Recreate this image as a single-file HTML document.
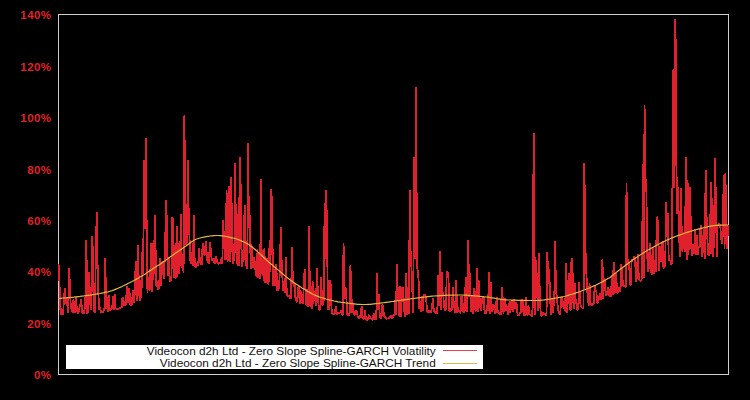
<!DOCTYPE html>
<html><head><meta charset="utf-8"><style>
html,body{margin:0;padding:0;background:#000;}
body{width:750px;height:400px;position:relative;overflow:hidden;font-family:"Liberation Sans",sans-serif;}
svg{position:absolute;left:0;top:0;}
.yl{position:absolute;left:0;width:51.5px;text-align:right;color:#e0202c;font-weight:bold;font-size:11.5px;line-height:12px;height:12px;letter-spacing:0.45px;white-space:nowrap;}
.lg{position:absolute;left:66px;top:345px;width:417px;height:24px;background:#fff;}
.lt{position:absolute;right:47.3px;color:#111;font-size:11.8px;line-height:13px;white-space:nowrap;text-align:right;}
</style></head><body>
<svg width="750" height="400" viewBox="0 0 750 400">
<rect x="58.5" y="14.5" width="670" height="360" fill="none" stroke="#cfcfcf" stroke-width="1"/>
<path d="M58.00,265.0 L58.86,265.0 L59.72,290.4 L60.58,314.8 L61.44,308.1 L62.30,314.2 L63.16,313.7 L64.02,297.9 L64.88,287.6 L65.74,298.4 L66.60,306.0 L67.46,298.1 L68.32,312.9 L69.18,268.0 L70.04,290.9 L70.90,308.7 L71.76,307.6 L72.62,313.1 L73.48,299.0 L74.34,311.7 L75.20,312.2 L76.06,296.6 L76.92,310.5 L77.78,313.8 L78.64,311.5 L79.50,307.6 L80.36,304.0 L81.22,299.0 L82.08,313.1 L82.94,312.2 L83.80,313.5 L84.66,308.6 L85.52,295.9 L86.38,240.0 L87.24,313.6 L88.10,312.4 L88.96,272.0 L89.82,292.1 L90.68,310.4 L91.54,297.1 L92.40,236.0 L93.26,275.3 L94.12,310.8 L94.98,313.0 L95.84,253.6 L96.70,211.8 L97.56,263.1 L98.42,294.9 L99.28,310.2 L100.14,307.4 L101.00,312.9 L101.86,311.6 L102.72,312.6 L103.58,310.4 L104.44,308.4 L105.30,258.0 L106.16,309.3 L107.02,297.1 L107.88,311.7 L108.74,295.1 L109.60,310.2 L110.46,310.5 L111.32,308.2 L112.18,307.9 L113.04,295.9 L113.91,310.1 L114.77,294.0 L115.63,309.1 L116.49,308.2 L117.35,309.8 L118.21,308.9 L119.07,308.7 L119.93,307.8 L120.79,307.4 L121.65,307.6 L122.51,296.9 L123.37,298.4 L124.23,306.0 L125.09,304.8 L125.95,304.8 L126.81,286.0 L127.67,302.5 L128.53,301.6 L129.39,288.1 L130.25,305.1 L131.11,304.8 L131.97,304.2 L132.83,290.3 L133.69,303.0 L134.55,296.9 L135.41,271.0 L136.27,261.4 L137.13,300.9 L137.99,245.0 L138.85,286.2 L139.71,300.6 L140.57,279.9 L141.43,297.5 L142.29,252.0 L143.15,273.8 L144.01,160.5 L144.87,229.2 L145.73,138.0 L146.59,218.2 L147.45,293.0 L148.31,277.2 L149.17,290.1 L150.03,289.2 L150.89,243.0 L151.75,291.7 L152.61,280.3 L153.47,240.0 L154.33,273.5 L155.19,215.5 L156.05,286.4 L156.91,280.7 L157.77,289.6 L158.63,289.2 L159.49,279.5 L160.35,258.0 L161.21,285.8 L162.07,262.4 L162.93,261.3 L163.79,278.5 L164.65,261.5 L165.51,228.5 L166.37,200.0 L167.23,253.5 L168.09,275.6 L168.95,256.9 L169.81,281.7 L170.67,280.4 L171.53,275.4 L172.39,217.0 L173.25,220.0 L174.11,277.9 L174.97,276.8 L175.83,278.4 L176.69,226.0 L177.55,276.9 L178.41,242.7 L179.27,273.9 L180.13,253.8 L180.99,214.0 L181.85,268.2 L182.71,264.0 L183.57,272.7 L184.43,114.8 L185.29,236.2 L186.15,245.2 L187.01,241.7 L187.87,160.0 L188.73,215.4 L189.59,239.8 L190.45,261.7 L191.31,263.8 L192.17,252.1 L193.03,265.5 L193.89,215.0 L194.75,266.5 L195.61,266.7 L196.47,266.9 L197.33,263.5 L198.19,265.8 L199.05,247.7 L199.91,261.4 L200.77,264.1 L201.63,265.0 L202.49,247.9 L203.35,242.8 L204.21,254.4 L205.07,255.0 L205.93,241.0 L206.79,260.6 L207.65,252.5 L208.51,264.3 L209.37,259.6 L210.23,241.8 L211.09,255.2 L211.95,260.4 L212.81,258.6 L213.67,258.7 L214.53,263.2 L215.39,263.6 L216.25,255.8 L217.11,262.5 L217.97,264.0 L218.83,263.2 L219.69,262.6 L220.55,262.9 L221.41,258.7 L222.27,264.2 L223.13,220.5 L223.99,238.5 L224.85,259.4 L225.72,258.0 L226.58,190.0 L227.44,261.5 L228.30,258.2 L229.16,186.0 L230.02,261.7 L230.88,177.0 L231.74,207.0 L232.60,264.1 L233.46,262.7 L234.32,255.6 L235.18,163.0 L236.04,244.8 L236.90,262.4 L237.76,265.5 L238.62,197.0 L239.48,266.3 L240.34,157.5 L241.20,242.6 L242.06,266.8 L242.92,259.5 L243.78,243.0 L244.64,205.0 L245.50,266.0 L246.36,264.6 L247.22,269.3 L248.08,143.0 L248.94,228.1 L249.80,215.5 L250.66,269.3 L251.52,243.6 L252.38,268.1 L253.24,267.1 L254.10,256.7 L254.96,263.8 L255.82,276.2 L256.68,274.3 L257.54,249.2 L258.40,277.5 L259.26,274.1 L260.12,279.2 L260.98,179.0 L261.84,273.9 L262.70,257.6 L263.56,280.6 L264.42,248.5 L265.28,282.7 L266.14,281.9 L267.00,258.2 L267.86,284.4 L268.72,281.0 L269.58,240.0 L270.44,272.2 L271.30,189.0 L272.16,208.0 L273.02,285.5 L273.88,280.4 L274.74,286.2 L275.60,264.5 L276.46,269.7 L277.32,290.5 L278.18,290.0 L279.04,288.3 L279.90,269.6 L280.76,227.0 L281.62,260.3 L282.48,279.4 L283.34,291.0 L284.20,286.4 L285.06,293.0 L285.92,257.0 L286.78,295.4 L287.64,294.8 L288.50,296.7 L289.36,295.3 L290.22,298.8 L291.08,297.9 L291.94,247.0 L292.80,277.6 L293.66,286.6 L294.52,281.7 L295.38,297.7 L296.24,300.6 L297.10,302.1 L297.96,288.1 L298.82,285.6 L299.68,303.7 L300.54,289.8 L301.40,299.6 L302.26,303.0 L303.12,303.1 L303.98,278.0 L304.84,269.0 L305.70,299.3 L306.56,305.5 L307.42,289.2 L308.28,307.1 L309.14,226.0 L310.00,306.4 L310.86,300.9 L311.72,308.6 L312.58,281.5 L313.44,303.8 L314.30,291.8 L315.16,292.3 L316.02,305.8 L316.88,268.0 L317.74,288.6 L318.60,307.1 L319.46,310.4 L320.32,308.2 L321.18,277.0 L322.04,304.4 L322.90,304.8 L323.76,300.0 L324.62,203.0 L325.48,258.5 L326.34,190.5 L327.20,252.2 L328.06,309.8 L328.92,309.1 L329.78,280.0 L330.64,284.0 L331.50,308.4 L332.36,313.7 L333.22,313.6 L334.08,313.7 L334.94,313.9 L335.80,305.8 L336.66,314.3 L337.53,314.5 L338.39,312.4 L339.25,313.6 L340.11,312.6 L340.97,310.5 L341.83,314.3 L342.69,315.2 L343.55,243.5 L344.41,283.9 L345.27,298.6 L346.13,288.0 L346.99,313.5 L347.85,315.9 L348.71,312.8 L349.57,315.4 L350.43,265.5 L351.29,291.3 L352.15,312.6 L353.01,303.3 L353.87,314.4 L354.73,315.2 L355.59,312.0 L356.45,310.1 L357.31,315.0 L358.17,317.7 L359.03,318.6 L359.89,315.2 L360.75,317.6 L361.61,305.6 L362.47,317.6 L363.33,319.0 L364.19,318.6 L365.05,309.6 L365.91,319.6 L366.77,319.7 L367.63,319.7 L368.49,316.8 L369.35,314.8 L370.21,318.1 L371.07,318.5 L371.93,319.8 L372.79,319.7 L373.65,313.2 L374.51,318.8 L375.37,319.6 L376.23,319.4 L377.09,273.0 L377.95,310.4 L378.81,294.0 L379.67,314.5 L380.53,318.0 L381.39,319.0 L382.25,305.6 L383.11,304.9 L383.97,316.8 L384.83,316.5 L385.69,317.6 L386.55,319.0 L387.41,318.5 L388.27,318.3 L389.13,317.7 L389.99,317.2 L390.85,314.8 L391.71,318.5 L392.57,318.1 L393.43,315.1 L394.29,315.7 L395.15,300.0 L396.01,314.5 L396.87,264.0 L397.73,290.8 L398.59,303.7 L399.45,316.9 L400.31,286.5 L401.17,316.9 L402.03,288.0 L402.89,287.0 L403.75,300.0 L404.61,316.1 L405.47,315.9 L406.33,273.0 L407.19,314.6 L408.05,310.4 L408.91,314.2 L409.77,190.5 L410.63,252.3 L411.49,268.0 L412.35,290.4 L413.21,313.4 L414.07,157.0 L414.93,258.5 L415.79,86.8 L416.65,198.0 L417.51,278.2 L418.37,270.0 L419.23,308.9 L420.09,301.5 L420.95,312.0 L421.81,295.6 L422.67,310.9 L423.53,294.9 L424.39,295.1 L425.25,295.2 L426.11,297.0 L426.97,310.3 L427.83,312.5 L428.69,311.0 L429.55,311.4 L430.41,312.5 L431.27,311.3 L432.13,305.5 L432.99,298.5 L433.85,311.8 L434.71,311.6 L435.57,313.0 L436.43,313.0 L437.29,312.9 L438.15,275.0 L439.01,305.9 L439.87,251.0 L440.73,310.0 L441.59,272.0 L442.45,291.7 L443.31,295.5 L444.17,307.1 L445.03,310.0 L445.89,310.2 L446.75,272.0 L447.61,272.0 L448.47,277.0 L449.34,310.9 L450.20,311.1 L451.06,308.6 L451.92,310.3 L452.78,287.0 L453.64,307.5 L454.50,301.0 L455.36,312.9 L456.22,280.0 L457.08,312.9 L457.94,306.8 L458.80,310.5 L459.66,312.4 L460.52,313.1 L461.38,296.5 L462.24,296.7 L463.10,312.0 L463.96,312.4 L464.82,310.3 L465.68,277.0 L466.54,309.4 L467.40,312.2 L468.26,240.0 L469.12,296.9 L469.98,273.4 L470.84,311.7 L471.70,295.8 L472.56,311.8 L473.42,313.7 L474.28,288.5 L475.14,308.7 L476.00,311.3 L476.86,268.0 L477.72,312.1 L478.58,280.0 L479.44,295.6 L480.30,307.6 L481.16,310.5 L482.02,298.4 L482.88,297.0 L483.74,296.9 L484.60,313.9 L485.46,310.7 L486.32,314.0 L487.18,304.9 L488.04,311.4 L488.90,271.8 L489.76,314.2 L490.62,282.0 L491.48,310.6 L492.34,312.1 L493.20,304.0 L494.06,306.8 L494.92,313.9 L495.78,312.4 L496.64,296.9 L497.50,309.2 L498.36,312.9 L499.22,312.5 L500.08,314.2 L500.94,314.8 L501.80,287.0 L502.66,297.3 L503.52,314.3 L504.38,298.5 L505.24,299.3 L506.10,310.7 L506.96,306.4 L507.82,314.4 L508.68,312.8 L509.54,300.7 L510.40,312.6 L511.26,303.6 L512.12,300.1 L512.98,312.2 L513.84,299.1 L514.70,305.3 L515.56,309.3 L516.42,302.0 L517.28,312.3 L518.14,315.9 L519.00,315.1 L519.86,312.7 L520.72,313.4 L521.58,298.6 L522.44,311.9 L523.30,300.6 L524.16,315.4 L525.02,315.5 L525.88,297.0 L526.74,312.0 L527.60,315.6 L528.46,305.5 L529.32,314.7 L530.18,314.4 L531.04,315.2 L531.90,316.4 L532.76,305.9 L533.62,133.0 L534.48,246.9 L535.34,315.4 L536.20,260.0 L537.06,288.3 L537.92,311.3 L538.78,253.0 L539.64,287.0 L540.50,310.5 L541.36,316.2 L542.22,315.6 L543.08,312.2 L543.94,314.6 L544.80,313.3 L545.66,315.7 L546.52,314.1 L547.38,252.0 L548.24,283.9 L549.10,269.0 L549.96,291.6 L550.82,315.1 L551.68,298.7 L552.54,313.1 L553.40,307.3 L554.26,302.1 L555.12,241.0 L555.98,292.0 L556.84,296.6 L557.70,306.5 L558.56,312.1 L559.42,313.9 L560.28,313.7 L561.15,299.0 L562.01,296.9 L562.87,303.7 L563.73,309.3 L564.59,298.4 L565.45,311.9 L566.31,262.6 L567.17,312.7 L568.03,295.7 L568.89,273.5 L569.75,304.4 L570.61,310.9 L571.47,259.0 L572.33,259.2 L573.19,300.5 L574.05,308.6 L574.91,283.5 L575.77,302.9 L576.63,303.1 L577.49,310.5 L578.35,308.0 L579.21,282.0 L580.07,301.8 L580.93,306.6 L581.79,307.2 L582.65,308.4 L583.51,307.7 L584.37,163.0 L585.23,242.3 L586.09,266.8 L586.95,286.0 L587.81,298.4 L588.67,305.5 L589.53,283.5 L590.39,302.5 L591.25,304.5 L592.11,305.5 L592.97,303.0 L593.83,304.4 L594.69,285.0 L595.55,290.2 L596.41,292.0 L597.27,303.2 L598.13,301.9 L598.99,298.6 L599.85,292.8 L600.71,300.0 L601.57,298.2 L602.43,259.0 L603.29,298.6 L604.15,278.6 L605.01,280.0 L605.87,296.0 L606.73,294.3 L607.59,292.4 L608.45,287.0 L609.31,295.7 L610.17,296.0 L611.03,296.3 L611.89,274.7 L612.75,294.8 L613.61,262.0 L614.47,293.7 L615.33,288.3 L616.19,273.5 L617.05,293.3 L617.91,292.5 L618.77,286.9 L619.63,291.7 L620.49,291.1 L621.35,264.0 L622.21,275.4 L623.07,285.8 L623.93,285.6 L624.79,286.1 L625.65,287.3 L626.51,183.0 L627.37,256.9 L628.23,265.0 L629.09,262.3 L629.95,284.1 L630.81,285.4 L631.67,260.9 L632.53,259.4 L633.39,259.6 L634.25,256.7 L635.11,258.1 L635.97,282.3 L636.83,278.2 L637.69,254.5 L638.55,272.2 L639.41,280.2 L640.27,280.6 L641.13,280.6 L641.99,278.3 L642.85,164.0 L643.71,278.2 L644.57,105.5 L645.43,192.1 L646.29,179.0 L647.15,253.9 L648.01,271.8 L648.87,267.2 L649.73,243.3 L650.59,254.7 L651.45,274.1 L652.31,274.3 L653.17,246.6 L654.03,273.7 L654.89,260.0 L655.75,271.6 L656.61,230.0 L657.47,215.6 L658.33,241.0 L659.19,271.2 L660.05,246.0 L660.91,262.2 L661.77,244.4 L662.63,241.0 L663.49,269.1 L664.35,261.0 L665.21,266.8 L666.07,201.8 L666.93,232.8 L667.79,213.0 L668.65,257.1 L669.51,261.1 L670.37,260.0 L671.23,265.2 L672.09,261.6 L672.96,70.0 L673.82,188.1 L674.68,18.8 L675.54,28.8 L676.40,165.5 L677.26,214.4 L678.12,186.8 L678.98,228.7 L679.84,257.3 L680.70,188.5 L681.56,223.9 L682.42,251.8 L683.28,238.0 L684.14,232.0 L685.00,252.2 L685.86,156.8 L686.72,259.8 L687.58,180.5 L688.44,254.9 L689.30,231.4 L690.16,186.8 L691.02,241.7 L691.88,256.4 L692.74,243.9 L693.60,253.0 L694.46,253.4 L695.32,228.8 L696.18,254.7 L697.04,235.0 L697.90,254.9 L698.76,246.8 L699.62,246.6 L700.48,226.0 L701.34,225.9 L702.20,256.6 L703.06,248.9 L703.92,228.8 L704.78,258.5 L705.64,170.5 L706.50,213.5 L707.36,237.9 L708.22,255.0 L709.08,255.9 L709.94,253.2 L710.80,181.8 L711.66,254.4 L712.52,198.0 L713.38,256.7 L714.24,224.7 L715.10,158.0 L715.96,206.9 L716.82,256.7 L717.68,223.8 L718.54,226.1 L719.40,223.0 L720.26,225.9 L721.12,237.7 L721.98,243.7 L722.84,230.8 L723.70,175.5 L724.56,249.2 L725.42,173.0 L726.28,226.5 L727.14,249.1 L728.00,225.0" fill="none" stroke="#e0202c" stroke-width="1.8" stroke-linejoin="bevel" shape-rendering="crispEdges"/>
<path d="M58.0,298.5 L60.0,298.4 L62.0,298.2 L64.0,298.0 L66.0,297.9 L68.0,297.7 L70.0,297.5 L72.0,297.3 L74.0,297.1 L76.0,296.8 L78.0,296.6 L80.0,296.4 L82.0,296.1 L84.0,295.9 L86.0,295.6 L88.0,295.3 L90.0,295.1 L92.0,294.8 L94.0,294.5 L96.0,294.2 L98.0,293.8 L100.0,293.5 L102.0,293.1 L104.0,292.7 L106.0,292.2 L108.0,291.8 L110.0,291.2 L112.0,290.6 L114.0,289.9 L116.0,289.1 L118.0,288.3 L120.0,287.4 L122.0,286.5 L124.0,285.5 L126.0,284.6 L128.0,283.5 L130.0,282.5 L132.0,281.5 L134.0,280.5 L136.0,279.4 L138.0,278.3 L140.0,277.1 L142.0,275.9 L144.0,274.7 L146.0,273.4 L148.0,272.1 L150.0,270.8 L152.0,269.5 L154.0,268.1 L156.0,266.8 L158.0,265.5 L160.0,264.2 L162.0,262.8 L164.0,261.4 L166.0,260.0 L168.0,258.6 L170.0,257.1 L172.0,255.7 L174.0,254.2 L176.0,252.8 L178.0,251.4 L180.0,250.0 L182.0,248.7 L184.0,247.3 L186.0,245.9 L188.0,244.4 L190.0,242.9 L192.0,241.4 L194.0,240.2 L196.0,239.2 L198.0,238.5 L200.0,238.0 L202.0,237.5 L204.0,237.1 L206.0,236.7 L208.0,236.3 L210.0,236.0 L212.0,235.8 L214.0,235.6 L216.0,235.5 L218.0,235.5 L220.0,235.6 L222.0,235.8 L224.0,236.1 L226.0,236.5 L228.0,236.9 L230.0,237.3 L232.0,237.8 L234.0,238.2 L236.0,238.8 L238.0,239.5 L240.0,240.2 L242.0,241.1 L244.0,242.0 L246.0,243.0 L248.0,244.1 L250.0,245.4 L252.0,246.9 L254.0,248.5 L256.0,250.3 L258.0,252.1 L260.0,253.9 L262.0,255.8 L264.0,257.7 L266.0,259.6 L268.0,261.4 L270.0,263.2 L272.0,264.8 L274.0,266.5 L276.0,268.2 L278.0,269.9 L280.0,271.6 L282.0,273.3 L284.0,275.0 L286.0,276.6 L288.0,278.2 L290.0,279.8 L292.0,281.2 L294.0,282.7 L296.0,284.0 L298.0,285.3 L300.0,286.6 L302.0,287.9 L304.0,289.1 L306.0,290.3 L308.0,291.5 L310.0,292.6 L312.0,293.7 L314.0,294.7 L316.0,295.6 L318.0,296.4 L320.0,297.2 L322.0,297.8 L324.0,298.4 L326.0,299.0 L328.0,299.5 L330.0,300.0 L332.0,300.5 L334.0,301.0 L336.0,301.4 L338.0,301.8 L340.0,302.1 L342.0,302.5 L344.0,302.7 L346.0,303.0 L348.0,303.2 L350.0,303.5 L352.0,303.7 L354.0,303.9 L356.0,304.1 L358.0,304.3 L360.0,304.4 L362.0,304.5 L364.0,304.5 L366.0,304.5 L368.0,304.4 L370.0,304.3 L372.0,304.1 L374.0,303.9 L376.0,303.7 L378.0,303.5 L380.0,303.2 L382.0,302.9 L384.0,302.7 L386.0,302.4 L388.0,302.1 L390.0,301.8 L392.0,301.5 L394.0,301.3 L396.0,301.0 L398.0,300.7 L400.0,300.5 L402.0,300.2 L404.0,299.9 L406.0,299.6 L408.0,299.3 L410.0,299.0 L412.0,298.7 L414.0,298.5 L416.0,298.2 L418.0,297.9 L420.0,297.6 L422.0,297.4 L424.0,297.1 L426.0,296.8 L428.0,296.6 L430.0,296.4 L432.0,296.2 L434.0,296.0 L436.0,295.9 L438.0,295.8 L440.0,295.6 L442.0,295.5 L444.0,295.4 L446.0,295.3 L448.0,295.2 L450.0,295.2 L452.0,295.1 L454.0,295.1 L456.0,295.0 L458.0,295.0 L460.0,295.0 L462.0,295.0 L464.0,295.1 L466.0,295.2 L468.0,295.3 L470.0,295.5 L472.0,295.6 L474.0,295.8 L476.0,296.0 L478.0,296.2 L480.0,296.4 L482.0,296.6 L484.0,296.8 L486.0,297.0 L488.0,297.2 L490.0,297.5 L492.0,297.8 L494.0,298.1 L496.0,298.5 L498.0,298.8 L500.0,299.1 L502.0,299.4 L504.0,299.6 L506.0,299.8 L508.0,300.0 L510.0,300.0 L512.0,300.1 L514.0,300.2 L516.0,300.2 L518.0,300.3 L520.0,300.3 L522.0,300.4 L524.0,300.4 L526.0,300.4 L528.0,300.5 L530.0,300.5 L532.0,300.5 L534.0,300.5 L536.0,300.5 L538.0,300.4 L540.0,300.3 L542.0,300.1 L544.0,299.9 L546.0,299.6 L548.0,299.3 L550.0,299.0 L552.0,298.7 L554.0,298.4 L556.0,298.0 L558.0,297.7 L560.0,297.3 L562.0,296.9 L564.0,296.5 L566.0,296.0 L568.0,295.4 L570.0,294.8 L572.0,294.2 L574.0,293.6 L576.0,292.9 L578.0,292.2 L580.0,291.5 L582.0,290.7 L584.0,290.0 L586.0,289.2 L588.0,288.5 L590.0,287.7 L592.0,286.8 L594.0,285.9 L596.0,285.0 L598.0,284.0 L600.0,283.0 L602.0,282.0 L604.0,280.9 L606.0,279.8 L608.0,278.6 L610.0,277.4 L612.0,275.9 L614.0,274.3 L616.0,272.6 L618.0,271.0 L620.0,269.4 L622.0,267.9 L624.0,266.4 L626.0,264.9 L628.0,263.5 L630.0,262.0 L632.0,260.6 L634.0,259.1 L636.0,257.7 L638.0,256.4 L640.0,255.0 L642.0,253.8 L644.0,252.5 L646.0,251.3 L648.0,250.1 L650.0,248.9 L652.0,247.8 L654.0,246.7 L656.0,245.6 L658.0,244.5 L660.0,243.5 L662.0,242.4 L664.0,241.5 L666.0,240.5 L668.0,239.6 L670.0,238.8 L672.0,237.9 L674.0,237.1 L676.0,236.3 L678.0,235.6 L680.0,234.9 L682.0,234.2 L684.0,233.5 L686.0,232.8 L688.0,232.1 L690.0,231.5 L692.0,230.9 L694.0,230.3 L696.0,229.7 L698.0,229.1 L700.0,228.6 L702.0,228.1 L704.0,227.6 L706.0,227.2 L708.0,226.7 L710.0,226.2 L712.0,225.9 L714.0,225.6 L716.0,225.4 L718.0,225.3 L720.0,225.2 L722.0,225.1 L724.0,225.1 L726.0,225.0 L728.0,225.0" fill="none" stroke="#e0b83c" stroke-width="1.2"/>
</svg>
<div class="yl" style="top:369.3px">0%</div>
<div class="yl" style="top:317.9px">20%</div>
<div class="yl" style="top:266.4px">40%</div>
<div class="yl" style="top:215.0px">60%</div>
<div class="yl" style="top:163.6px">80%</div>
<div class="yl" style="top:112.2px">100%</div>
<div class="yl" style="top:60.7px">120%</div>
<div class="yl" style="top:9.3px">140%</div>

<div class="lg">
<div class="lt" style="top:-0.5px">Videocon d2h Ltd - Zero Slope Spline-GARCH Volatility</div>
<div class="lt" style="top:11.5px">Videocon d2h Ltd - Zero Slope Spline-GARCH Trend</div>
<svg width="417" height="24" style="left:0;top:0"><line x1="377" y1="5.5" x2="411" y2="5.5" stroke="#e3434e" stroke-width="1"/><line x1="377" y1="18.5" x2="411" y2="18.5" stroke="#dcbb4e" stroke-width="1"/></svg>
</div>
</body></html>
